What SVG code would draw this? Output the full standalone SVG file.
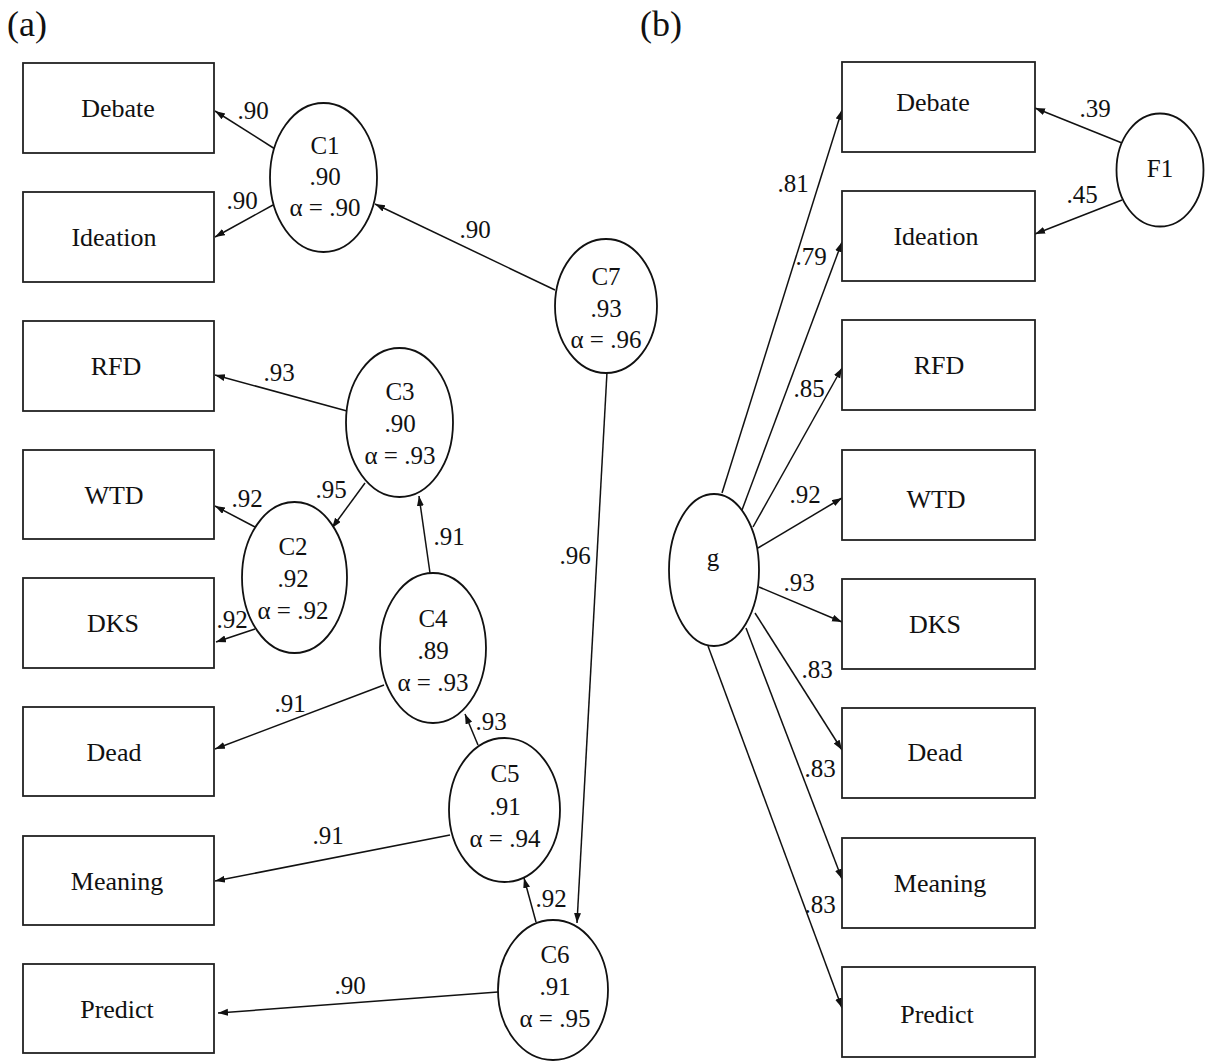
<svg xmlns="http://www.w3.org/2000/svg" width="1215" height="1061" viewBox="0 0 1215 1061">
<defs>
<marker id="ah" markerUnits="userSpaceOnUse" markerWidth="11" markerHeight="8" refX="10" refY="3.5" orient="auto">
<path d="M0,0 L10,3.5 L0,7 z" fill="#111"/>
</marker>
<style>
.box{fill:#fff;stroke:#222;stroke-width:1.8}
.ell{fill:#fff;stroke:#111;stroke-width:1.8}
.con{stroke:#111;stroke-width:1.5;fill:none;marker-end:url(#ah)}
text{font-family:"Liberation Serif","Times New Roman",serif;fill:#111}
.bt{font-size:26px;text-anchor:middle}
.et{font-size:25px;text-anchor:middle}
.lb{font-size:25px;text-anchor:middle}
.tt{font-size:36px}
</style>
</defs>
<rect width="1215" height="1061" fill="#fff"/>
<text class="tt" x="7" y="36">(a)</text>
<text class="tt" x="640" y="36">(b)</text>

<g id="connectors">
<line class="con" x1="275" y1="149" x2="215" y2="111"/>
<line class="con" x1="273" y1="205" x2="215" y2="237"/>
<line class="con" x1="555" y1="290" x2="375" y2="204"/>
<line class="con" x1="607" y1="372" x2="577" y2="923"/>
<line class="con" x1="347" y1="411" x2="215" y2="375"/>
<line class="con" x1="365" y1="483" x2="332" y2="528"/>
<line class="con" x1="255" y1="527" x2="215" y2="506"/>
<line class="con" x1="255" y1="629" x2="216" y2="642"/>
<line class="con" x1="430" y1="573" x2="419" y2="496"/>
<line class="con" x1="384" y1="685" x2="215" y2="749"/>
<line class="con" x1="478" y1="745" x2="465" y2="714"/>
<line class="con" x1="450" y1="835" x2="215" y2="881"/>
<line class="con" x1="536" y1="922" x2="524" y2="878"/>
<line class="con" x1="498" y1="992" x2="218" y2="1013"/>
<line class="con" x1="722" y1="493" x2="842" y2="110"/>
<line class="con" x1="742" y1="510" x2="842" y2="242"/>
<line class="con" x1="753" y1="527" x2="842" y2="368"/>
<line class="con" x1="758" y1="548" x2="842" y2="498"/>
<line class="con" x1="759" y1="587" x2="842" y2="622"/>
<line class="con" x1="755" y1="613" x2="842" y2="750"/>
<line class="con" x1="746" y1="628" x2="842" y2="879"/>
<line class="con" x1="708" y1="646" x2="842" y2="1008"/>
<line class="con" x1="1122" y1="143" x2="1035" y2="108"/>
<line class="con" x1="1122" y1="200" x2="1035" y2="234"/>
<text class="lb" x="253" y="119">.90</text>
<text class="lb" x="242" y="209">.90</text>
<text class="lb" x="475" y="238">.90</text>
<text class="lb" x="575" y="564">.96</text>
<text class="lb" x="279" y="381">.93</text>
<text class="lb" x="331" y="498">.95</text>
<text class="lb" x="247" y="507">.92</text>
<text class="lb" x="232" y="628">.92</text>
<text class="lb" x="449" y="545">.91</text>
<text class="lb" x="290" y="712">.91</text>
<text class="lb" x="491" y="730">.93</text>
<text class="lb" x="328" y="844">.91</text>
<text class="lb" x="551" y="907">.92</text>
<text class="lb" x="350" y="994">.90</text>
<text class="lb" x="793" y="192">.81</text>
<text class="lb" x="811" y="265">.79</text>
<text class="lb" x="809" y="397">.85</text>
<text class="lb" x="805" y="503">.92</text>
<text class="lb" x="799" y="591">.93</text>
<text class="lb" x="817" y="678">.83</text>
<text class="lb" x="820" y="777">.83</text>
<text class="lb" x="820" y="913">.83</text>
<text class="lb" x="1095" y="117">.39</text>
<text class="lb" x="1082" y="203">.45</text>
</g>

<g id="a-debate"><rect class="box" x="23" y="63" width="191" height="90"/><text class="bt" x="118" y="117">Debate</text></g>
<g id="a-ideation"><rect class="box" x="23" y="192" width="191" height="90"/><text class="bt" x="114" y="246">Ideation</text></g>
<g id="a-rfd"><rect class="box" x="23" y="321" width="191" height="90"/><text class="bt" x="116" y="375">RFD</text></g>
<g id="a-wtd"><rect class="box" x="23" y="450" width="191" height="89"/><text class="bt" x="114" y="504">WTD</text></g>
<g id="a-dks"><rect class="box" x="23" y="578" width="191" height="90"/><text class="bt" x="113" y="632">DKS</text></g>
<g id="a-dead"><rect class="box" x="23" y="707" width="191" height="89"/><text class="bt" x="114" y="761">Dead</text></g>
<g id="a-meaning"><rect class="box" x="23" y="836" width="191" height="89"/><text class="bt" x="117" y="890">Meaning</text></g>
<g id="a-predict"><rect class="box" x="23" y="964" width="191" height="89"/><text class="bt" x="117" y="1018">Predict</text></g>

<g id="C1"><ellipse class="ell" cx="323.5" cy="177.5" rx="53.5" ry="74.5"/><text class="et" x="325" y="154">C1</text><text class="et" x="325" y="185">.90</text><text class="et" x="325" y="216">α = .90</text></g>
<g id="C7"><ellipse class="ell" cx="606" cy="306" rx="51" ry="67"/><text class="et" x="606" y="285">C7</text><text class="et" x="606" y="317">.93</text><text class="et" x="606" y="348">α = .96</text></g>
<g id="C3"><ellipse class="ell" cx="399.5" cy="422.5" rx="53.5" ry="74.5"/><text class="et" x="400" y="400">C3</text><text class="et" x="400" y="432">.90</text><text class="et" x="400" y="464">α = .93</text></g>
<g id="C2"><ellipse class="ell" cx="294.5" cy="577.5" rx="52.5" ry="75.5"/><text class="et" x="293" y="555">C2</text><text class="et" x="293" y="587">.92</text><text class="et" x="293" y="619">α = .92</text></g>
<g id="C4"><ellipse class="ell" cx="433" cy="648" rx="53" ry="75"/><text class="et" x="433" y="627">C4</text><text class="et" x="433" y="659">.89</text><text class="et" x="433" y="691">α = .93</text></g>
<g id="C5"><ellipse class="ell" cx="504.5" cy="810" rx="55.5" ry="72"/><text class="et" x="505" y="782">C5</text><text class="et" x="505" y="815">.91</text><text class="et" x="505" y="847">α = .94</text></g>
<g id="C6"><ellipse class="ell" cx="553" cy="990" rx="55" ry="70"/><text class="et" x="555" y="963">C6</text><text class="et" x="555" y="995">.91</text><text class="et" x="555" y="1027">α = .95</text></g>

<g id="b-debate"><rect class="box" x="842" y="62" width="193" height="90"/><text class="bt" x="933" y="111">Debate</text></g>
<g id="b-ideation"><rect class="box" x="842" y="191" width="193" height="90"/><text class="bt" x="936" y="245">Ideation</text></g>
<g id="b-rfd"><rect class="box" x="842" y="320" width="193" height="90"/><text class="bt" x="939" y="374">RFD</text></g>
<g id="b-wtd"><rect class="box" x="842" y="450" width="193" height="90"/><text class="bt" x="936" y="508">WTD</text></g>
<g id="b-dks"><rect class="box" x="842" y="579" width="193" height="90"/><text class="bt" x="935" y="633">DKS</text></g>
<g id="b-dead"><rect class="box" x="842" y="708" width="193" height="90"/><text class="bt" x="935" y="761">Dead</text></g>
<g id="b-meaning"><rect class="box" x="842" y="838" width="193" height="90"/><text class="bt" x="940" y="892">Meaning</text></g>
<g id="b-predict"><rect class="box" x="842" y="967" width="193" height="90"/><text class="bt" x="937" y="1023">Predict</text></g>

<g id="g"><ellipse class="ell" cx="714" cy="570" rx="45" ry="76"/><text class="et" x="713" y="566">g</text></g>
<g id="F1"><ellipse class="ell" cx="1160" cy="170" rx="43.5" ry="56.5"/><text class="et" x="1160" y="177">F1</text></g>
</svg>
